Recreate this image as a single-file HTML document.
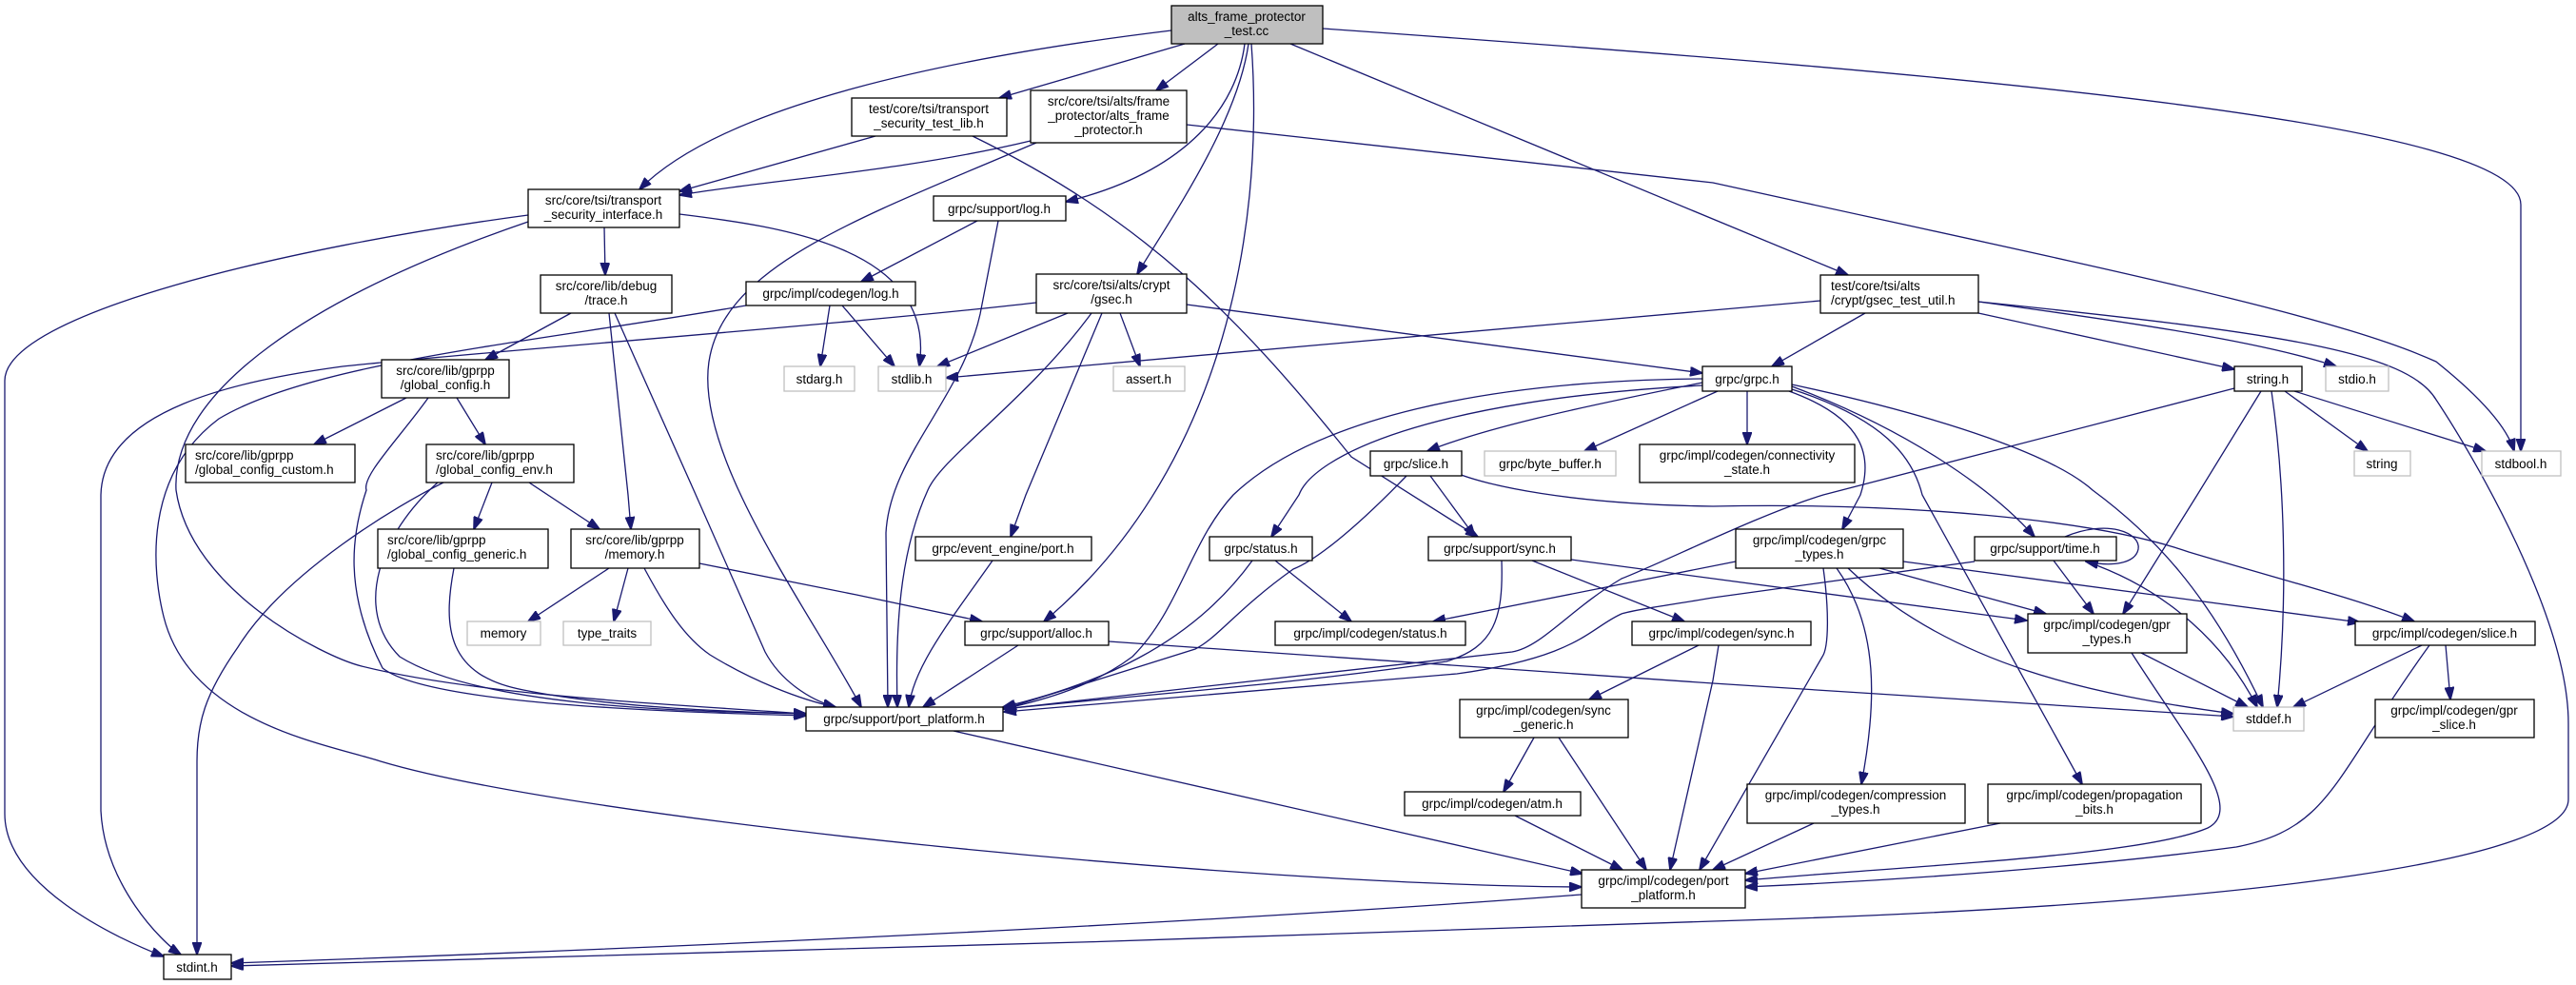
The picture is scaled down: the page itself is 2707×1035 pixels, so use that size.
<!DOCTYPE html>
<html><head><meta charset="utf-8"><style>
html,body{margin:0;padding:0;background:#fff;}
svg{display:block;}
text{font-family:"Liberation Sans",sans-serif;font-size:13.5px;fill:#000;}
.n{fill:#fff;stroke:#000;stroke-width:1.3;}
.g{fill:#fff;stroke:#bfbfbf;stroke-width:1.3;}
.m{fill:#bfbfbf;stroke:#000;stroke-width:1.3;}
.e{fill:none;stroke:#191970;stroke-width:1.3;marker-end:url(#a);}
</style></head><body>
<svg width="2707" height="1035" viewBox="0 0 2707 1035" xmlns="http://www.w3.org/2000/svg">
<defs><marker id="a" markerUnits="userSpaceOnUse" markerWidth="14" markerHeight="10" refX="13" refY="5" orient="auto"><path d="M0,0 L14,5 L0,10 z" fill="#191970" stroke="#191970"/></marker></defs>
<g>
<path class="e" d="M1231,32 C1000,60 760,110 672,199"/>
<path class="e" d="M1245,46 L1050,103"/>
<path class="e" d="M1280,46 L1215,95"/>
<path class="e" d="M1308,46 C1300,110 1250,180 1120,212"/>
<path class="e" d="M1312,46 C1300,130 1230,230 1195,288"/>
<path class="e" d="M1315,46 C1330,250 1280,500 1097,653"/>
<path class="e" d="M1356,46 L1942,289"/>
<path class="e" d="M1390,30 C2100,80 2649,130 2649,215 L2649,474"/>
<path class="e" d="M920,143 L714,201"/>
<path class="e" d="M1022,143 C1200,230 1300,330 1420,480 L1553,564"/>
<path class="e" d="M1083,148 C950,180 800,190 714,205"/>
<path class="e" d="M1089,150 C900,230 760,280 745,380 C730,480 850,640 905,743"/>
<path class="e" d="M1247,131 L1800,192 C2200,280 2450,330 2560,380 C2610,420 2635,450 2642,474"/>
<path class="e" d="M635,239 L636,289"/>
<path class="e" d="M555,226 C300,260 5,330 5,400 L5,855 C5,930 120,985 172,1005"/>
<path class="e" d="M555,233 C330,310 180,410 185,515 C200,620 340,690 380,700 C500,730 700,740 847,750"/>
<path class="e" d="M714,225 C820,238 985,260 966,385"/>
<path class="e" d="M1027,232 L905,296"/>
<path class="e" d="M1049,232 L1030,330 C1010,420 935,480 931,560 L933,743"/>
<path class="e" d="M600,329 L510,378"/>
<path class="e" d="M640,329 L660,520 L663,556"/>
<path class="e" d="M646,329 L729,515 L804,685 C820,715 850,735 878,743"/>
<path class="e" d="M872,321 L862,385"/>
<path class="e" d="M885,321 L940,385"/>
<path class="e" d="M784,321 C560,360 330,380 230,440 C150,500 160,600 172,648 C200,760 344,782 400,800 C600,860 1300,930 1662,932"/>
<path class="e" d="M1089,318 C900,340 500,370 360,385 C250,400 108,430 106,520 L106,852 C110,930 170,990 190,1003"/>
<path class="e" d="M1122,329 L985,385"/>
<path class="e" d="M1177,329 L1198,385"/>
<path class="e" d="M1247,320 L1789,392"/>
<path class="e" d="M1147,329 C1080,420 990,480 975,515 C950,570 940,640 943,743"/>
<path class="e" d="M1158,329 L1078,520 L1062,564"/>
<path class="e" d="M1913,316 L994,397"/>
<path class="e" d="M1960,329 L1862,385"/>
<path class="e" d="M2079,329 L2348,388"/>
<path class="e" d="M2079,317 C2250,340 2380,360 2455,385"/>
<path class="e" d="M2079,317 C2400,350 2530,370 2560,420 C2600,480 2699,650 2699,760 L2699,840 C2699,900 2400,950 1800,968 C1300,985 700,1005 243,1015"/>
<path class="e" d="M1662,940 C1200,975 600,1000 243,1012"/>
<path class="e" d="M1789,402 C1650,430 1560,450 1500,474"/>
<path class="e" d="M1805,411 L1665,474"/>
<path class="e" d="M1836,411 L1836,467"/>
<path class="e" d="M1789,405 C1500,420 1380,480 1365,520 L1336,564"/>
<path class="e" d="M1789,398 C1560,400 1380,440 1296,520 C1250,570 1240,640 1190,690 C1150,720 1100,735 1054,745"/>
<path class="e" d="M1880,411 C1960,440 1968,480 1955,520 L1936,556"/>
<path class="e" d="M1883,406 C2000,450 2090,510 2138,564"/>
<path class="e" d="M1883,404 C2050,440 2160,480 2199,515 C2260,560 2320,620 2378,743"/>
<path class="e" d="M1880,408 C1980,440 2010,480 2020,520 L2188,824"/>
<path class="e" d="M2348,408 L1916,520 C1850,540 1750,590 1704,608 C1650,640 1620,680 1589,685 L1055,745"/>
<path class="e" d="M2075,590 L1800,628 C1760,635 1720,640 1704,645 C1670,660 1660,690 1531,708 L1055,748"/>
<path class="e" d="M2376,411 L2309,520 L2231,645"/>
<path class="e" d="M2387,411 C2400,500 2405,620 2393,743"/>
<path class="e" d="M2401,411 L2488,474"/>
<path class="e" d="M2411,411 L2612,474"/>
<path class="e" d="M1503,500 L1550,564"/>
<path class="e" d="M1478,500 C1420,560 1380,590 1359,598 C1300,640 1280,670 1256,682 L1055,745"/>
<path class="e" d="M1528,496 C1560,510 1650,530 1800,532 C2000,528 2200,545 2300,580 C2400,610 2480,630 2537,653"/>
<path class="e" d="M1340,589 L1420,653"/>
<path class="e" d="M1316,589 C1250,680 1150,720 1054,743"/>
<path class="e" d="M1578,589 C1580,650 1570,680 1520,695 C1350,720 1200,730 1054,745"/>
<path class="e" d="M1610,589 L1770,653"/>
<path class="e" d="M1651,588 L2130,652"/>
<path class="e" d="M1824,590 L1506,653"/>
<path class="e" d="M1975,597 L2150,645"/>
<path class="e" d="M2000,590 L2480,654"/>
<path class="e" d="M1942,597 C2050,700 2200,730 2347,750"/>
<path class="e" d="M1930,597 C1975,660 1972,740 1956,824"/>
<path class="e" d="M1916,597 C1922,640 1922,680 1915,690 L1786,914"/>
<path class="e" d="M2170,564 C2215,545 2250,560 2247,577 C2244,592 2220,596 2192,590"/>
<path class="e" d="M2158,589 L2200,645"/>
<path class="e" d="M2192,590 C2280,620 2340,680 2372,743"/>
<path class="e" d="M640,597 L555,653"/>
<path class="e" d="M660,597 L645,653"/>
<path class="e" d="M677,597 C700,640 720,670 746,688 C790,715 840,735 878,743"/>
<path class="e" d="M735,592 L900,625 L1032,653"/>
<path class="e" d="M427,418 L330,467"/>
<path class="e" d="M480,418 L510,467"/>
<path class="e" d="M450,418 C420,460 380,500 385,515 C370,560 360,620 402,702 C450,740 700,748 847,752"/>
<path class="e" d="M517,507 L498,556"/>
<path class="e" d="M556,507 L630,556"/>
<path class="e" d="M466,507 C420,530 300,600 250,680 C215,730 207,760 207,800 L207,1003"/>
<path class="e" d="M460,507 C400,560 370,640 420,690 C500,740 700,748 847,750"/>
<path class="e" d="M477,597 C465,660 470,710 550,725 C650,745 780,748 847,750"/>
<path class="e" d="M1043,589 C1000,650 960,700 955,743"/>
<path class="e" d="M1070,678 L970,743"/>
<path class="e" d="M1165,674 L1800,718 L2347,753"/>
<path class="e" d="M1785,678 L1670,735"/>
<path class="e" d="M1806,678 L1800,715 L1755,914"/>
<path class="e" d="M1612,775 L1580,832"/>
<path class="e" d="M1638,775 L1730,914"/>
<path class="e" d="M1592,857 L1705,914"/>
<path class="e" d="M1002,768 L1663,918"/>
<path class="e" d="M2250,686 L2362,743"/>
<path class="e" d="M2240,686 C2300,780 2360,850 2320,870 C2250,900 2000,910 1834,925"/>
<path class="e" d="M2545,678 L2410,743"/>
<path class="e" d="M2570,678 L2575,735"/>
<path class="e" d="M2553,678 C2450,820 2450,870 2350,890 C2200,910 2000,925 1834,932"/>
<path class="e" d="M1906,865 L1800,914"/>
<path class="e" d="M2102,865 L1834,918"/>
</g>
<g>
<rect class="m" x="1231" y="6" width="159" height="40"/><text x="1310" y="22" text-anchor="middle">alts_frame_protector</text><text x="1310" y="37" text-anchor="middle">_test.cc</text>
<rect class="n" x="895" y="103" width="163" height="40"/><text x="976" y="119" text-anchor="middle">test/core/tsi/transport</text><text x="976" y="134" text-anchor="middle">_security_test_lib.h</text>
<rect class="n" x="1083" y="95" width="164" height="55"/><text x="1165" y="111" text-anchor="middle">src/core/tsi/alts/frame</text><text x="1165" y="126" text-anchor="middle">_protector/alts_frame</text><text x="1165" y="141" text-anchor="middle">_protector.h</text>
<rect class="n" x="555" y="199" width="159" height="40"/><text x="634" y="215" text-anchor="middle">src/core/tsi/transport</text><text x="634" y="230" text-anchor="middle">_security_interface.h</text>
<rect class="n" x="981" y="206" width="139" height="26"/><text x="1050" y="224" text-anchor="middle">grpc/support/log.h</text>
<rect class="n" x="568" y="289" width="138" height="40"/><text x="637" y="305" text-anchor="middle">src/core/lib/debug</text><text x="637" y="320" text-anchor="middle">/trace.h</text>
<rect class="n" x="784" y="296" width="178" height="25"/><text x="873" y="313" text-anchor="middle">grpc/impl/codegen/log.h</text>
<rect class="n" x="1089" y="288" width="158" height="41"/><text x="1168" y="304" text-anchor="middle">src/core/tsi/alts/crypt</text><text x="1168" y="319" text-anchor="middle">/gsec.h</text>
<rect class="n" x="1913" y="289" width="166" height="40"/><text x="1924" y="305">test/core/tsi/alts</text><text x="1924" y="320">/crypt/gsec_test_util.h</text>
<rect class="n" x="401" y="378" width="134" height="40"/><text x="468" y="394" text-anchor="middle">src/core/lib/gprpp</text><text x="468" y="409" text-anchor="middle">/global_config.h</text>
<rect class="g" x="824" y="385" width="74" height="26"/><text x="861" y="403" text-anchor="middle">stdarg.h</text>
<rect class="g" x="923" y="385" width="71" height="26"/><text x="958" y="403" text-anchor="middle">stdlib.h</text>
<rect class="g" x="1170" y="385" width="75" height="26"/><text x="1207" y="403" text-anchor="middle">assert.h</text>
<rect class="n" x="1789" y="385" width="94" height="26"/><text x="1836" y="403" text-anchor="middle">grpc/grpc.h</text>
<rect class="n" x="2348" y="385" width="71" height="26"/><text x="2383" y="403" text-anchor="middle">string.h</text>
<rect class="g" x="2444" y="385" width="66" height="26"/><text x="2477" y="403" text-anchor="middle">stdio.h</text>
<rect class="n" x="195" y="467" width="178" height="40"/><text x="205" y="483">src/core/lib/gprpp</text><text x="205" y="498">/global_config_custom.h</text>
<rect class="n" x="448" y="467" width="155" height="40"/><text x="458" y="483">src/core/lib/gprpp</text><text x="458" y="498">/global_config_env.h</text>
<rect class="n" x="1440" y="474" width="96" height="26"/><text x="1488" y="492" text-anchor="middle">grpc/slice.h</text>
<rect class="g" x="1560" y="474" width="138" height="26"/><text x="1629" y="492" text-anchor="middle">grpc/byte_buffer.h</text>
<rect class="n" x="1723" y="467" width="226" height="40"/><text x="1836" y="483" text-anchor="middle">grpc/impl/codegen/connectivity</text><text x="1836" y="498" text-anchor="middle">_state.h</text>
<rect class="g" x="2474" y="474" width="59" height="26"/><text x="2503" y="492" text-anchor="middle">string</text>
<rect class="g" x="2608" y="474" width="83" height="26"/><text x="2649" y="492" text-anchor="middle">stdbool.h</text>
<rect class="n" x="397" y="556" width="179" height="41"/><text x="407" y="572">src/core/lib/gprpp</text><text x="407" y="587">/global_config_generic.h</text>
<rect class="n" x="600" y="556" width="135" height="41"/><text x="667" y="572" text-anchor="middle">src/core/lib/gprpp</text><text x="667" y="587" text-anchor="middle">/memory.h</text>
<rect class="n" x="962" y="564" width="185" height="25"/><text x="1054" y="581" text-anchor="middle">grpc/event_engine/port.h</text>
<rect class="n" x="1271" y="564" width="108" height="25"/><text x="1325" y="581" text-anchor="middle">grpc/status.h</text>
<rect class="n" x="1501" y="564" width="150" height="25"/><text x="1576" y="581" text-anchor="middle">grpc/support/sync.h</text>
<rect class="n" x="1824" y="556" width="176" height="41"/><text x="1912" y="572" text-anchor="middle">grpc/impl/codegen/grpc</text><text x="1912" y="587" text-anchor="middle">_types.h</text>
<rect class="n" x="2075" y="564" width="149" height="25"/><text x="2149" y="581" text-anchor="middle">grpc/support/time.h</text>
<rect class="g" x="491" y="653" width="77" height="25"/><text x="529" y="670" text-anchor="middle">memory</text>
<rect class="g" x="592" y="653" width="92" height="25"/><text x="638" y="670" text-anchor="middle">type_traits</text>
<rect class="n" x="1014" y="653" width="151" height="25"/><text x="1089" y="670" text-anchor="middle">grpc/support/alloc.h</text>
<rect class="n" x="1340" y="653" width="200" height="25"/><text x="1440" y="670" text-anchor="middle">grpc/impl/codegen/status.h</text>
<rect class="n" x="1715" y="653" width="188" height="25"/><text x="1809" y="670" text-anchor="middle">grpc/impl/codegen/sync.h</text>
<rect class="n" x="2131" y="645" width="167" height="41"/><text x="2214" y="661" text-anchor="middle">grpc/impl/codegen/gpr</text><text x="2214" y="676" text-anchor="middle">_types.h</text>
<rect class="n" x="2475" y="653" width="189" height="25"/><text x="2569" y="670" text-anchor="middle">grpc/impl/codegen/slice.h</text>
<rect class="n" x="847" y="743" width="207" height="25"/><text x="950" y="760" text-anchor="middle">grpc/support/port_platform.h</text>
<rect class="n" x="1534" y="735" width="177" height="40"/><text x="1622" y="751" text-anchor="middle">grpc/impl/codegen/sync</text><text x="1622" y="766" text-anchor="middle">_generic.h</text>
<rect class="g" x="2347" y="743" width="74" height="25"/><text x="2384" y="760" text-anchor="middle">stddef.h</text>
<rect class="n" x="2496" y="735" width="167" height="40"/><text x="2579" y="751" text-anchor="middle">grpc/impl/codegen/gpr</text><text x="2579" y="766" text-anchor="middle">_slice.h</text>
<rect class="n" x="1836" y="824" width="229" height="41"/><text x="1950" y="840" text-anchor="middle">grpc/impl/codegen/compression</text><text x="1950" y="855" text-anchor="middle">_types.h</text>
<rect class="n" x="2089" y="824" width="224" height="41"/><text x="2201" y="840" text-anchor="middle">grpc/impl/codegen/propagation</text><text x="2201" y="855" text-anchor="middle">_bits.h</text>
<rect class="n" x="1476" y="832" width="185" height="25"/><text x="1568" y="849" text-anchor="middle">grpc/impl/codegen/atm.h</text>
<rect class="n" x="1662" y="914" width="172" height="40"/><text x="1748" y="930" text-anchor="middle">grpc/impl/codegen/port</text><text x="1748" y="945" text-anchor="middle">_platform.h</text>
<rect class="n" x="172" y="1003" width="71" height="26"/><text x="207" y="1021" text-anchor="middle">stdint.h</text>
</g>
</svg>
</body></html>
